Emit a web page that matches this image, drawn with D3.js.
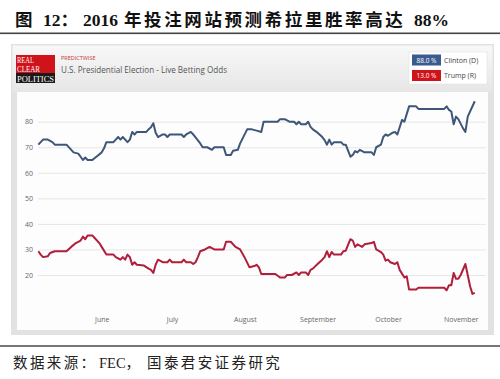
<!DOCTYPE html>
<html><head><meta charset="utf-8">
<script src="https://cdn.jsdelivr.net/npm/d3@7"></script>
<style>body{margin:0;background:#fff}svg{display:block}</style>
</head><body><svg id="c" width="500" height="379"></svg>
<script>
const titleParts = ["图", "12：", "2016", "年投注网站预测希拉里胜率高达", "88%"];
const sourceParts = ["数据来源：", "FEC，", "国泰君安证券研究"];
const yTicks = [20, 30, 40, 50, 60, 70, 80];
const monthTicks = ["2016-06-01", "2016-07-01", "2016-08-01", "2016-09-01", "2016-10-01", "2016-11-01"];
const legendLabels = ["Clinton (D)", "Trump (R)"];
const legendValues = ["88.0 %", "13.0 %"];
const clinton = [
["2016-05-05",71],["2016-05-07",73],["2016-05-09",73],["2016-05-11",72],["2016-05-12",71],["2016-05-17",71],
["2016-05-20",68],["2016-05-22",67.5],["2016-05-23",66.3],["2016-05-24",65],["2016-05-25",66],["2016-05-26",65],
["2016-05-28",65],["2016-05-30",66.5],["2016-06-01",68],["2016-06-02",69.6],["2016-06-03",72],["2016-06-06",72],
["2016-06-07",73],["2016-06-08",74],["2016-06-09",73],["2016-06-10",74],["2016-06-12",72],["2016-06-13",73],
["2016-06-14",76],["2016-06-15",75],["2016-06-16",76],["2016-06-20",76],["2016-06-21",77],["2016-06-22",77.8],
["2016-06-23",79.4],["2016-06-24",75.7],["2016-06-25",74],["2016-06-27",75],["2016-06-28",75],["2016-06-29",74],
["2016-06-30",75],["2016-07-05",75],["2016-07-06",74],["2016-07-07",75],["2016-07-09",76],["2016-07-10",75],
["2016-07-13",71.5],["2016-07-14",70],["2016-07-16",70],["2016-07-18",69],["2016-07-19",70],["2016-07-23",70],
["2016-07-24",67],["2016-07-26",67],["2016-07-27",68.6],["2016-07-29",69],["2016-07-30",71.5],["2016-08-02",77],
["2016-08-04",77],["2016-08-06",76.5],["2016-08-08",76],["2016-08-09",80],["2016-08-15",80],["2016-08-16",81],
["2016-08-18",81],["2016-08-20",80],["2016-08-22",80],["2016-08-23",79],["2016-08-24",80],["2016-08-25",79],
["2016-08-27",79],["2016-08-28",80],["2016-08-29",78],["2016-08-30",77],["2016-09-01",75.7],["2016-09-03",74],
["2016-09-04",72.8],["2016-09-05",71],["2016-09-06",73],["2016-09-07",71],["2016-09-08",72],["2016-09-11",72],
["2016-09-12",71],["2016-09-13",71],["2016-09-15",66.3],["2016-09-16",67],["2016-09-17",68.5],["2016-09-18",68],
["2016-09-19",69],["2016-09-21",68],["2016-09-24",68],["2016-09-25",67],["2016-09-26",70],["2016-09-28",71],
["2016-09-29",74],["2016-09-30",75],["2016-10-01",74.5],["2016-10-03",75.7],["2016-10-04",76],["2016-10-05",75],
["2016-10-07",80.7],["2016-10-08",80],["2016-10-10",86],["2016-10-13",86],["2016-10-14",85],["2016-10-25",85],
["2016-10-26",86],["2016-10-27",84.6],["2016-10-28",84],["2016-10-29",79],["2016-10-30",82],["2016-10-31",81],
["2016-11-02",77.4],["2016-11-03",76],["2016-11-04",82],["2016-11-07",88]
];
const trump = [
["2016-05-05",29.3],["2016-05-06",28],["2016-05-07",27],["2016-05-09",27.3],["2016-05-10",28.6],["2016-05-12",29.3],
["2016-05-17",29.3],["2016-05-19",31],["2016-05-21",32.5],["2016-05-23",33.5],["2016-05-24",35],["2016-05-25",34],
["2016-05-26",35.5],["2016-05-28",35.5],["2016-05-29",34.5],["2016-05-31",32.5],["2016-06-01",31],["2016-06-03",28],
["2016-06-06",28],["2016-06-07",27],["2016-06-09",26],["2016-06-10",27],["2016-06-11",26],["2016-06-12",28],
["2016-06-13",27],["2016-06-14",24],["2016-06-15",25],["2016-06-16",24],["2016-06-19",23.7],["2016-06-21",22.5],
["2016-06-22",22],["2016-06-23",20.8],["2016-06-24",24],["2016-06-25",26],["2016-06-27",25],["2016-06-29",25],
["2016-06-30",26],["2016-07-01",25],["2016-07-05",25],["2016-07-06",26],["2016-07-07",25],["2016-07-09",25],
["2016-07-10",24.3],["2016-07-11",25],["2016-07-12",27],["2016-07-13",29.3],["2016-07-15",30],["2016-07-17",31],
["2016-07-19",30],["2016-07-23",30],["2016-07-24",33],["2016-07-26",33],["2016-07-28",31],["2016-07-30",30],
["2016-08-01",26.7],["2016-08-03",23],["2016-08-05",23.5],["2016-08-06",24],["2016-08-07",23],["2016-08-08",20.4],
["2016-08-14",20.4],["2016-08-16",19],["2016-08-18",19],["2016-08-19",20],["2016-08-21",20],["2016-08-23",21],
["2016-08-24",20],["2016-08-25",21],["2016-08-27",21],["2016-08-28",20],["2016-08-29",22],["2016-08-30",22.5],
["2016-09-01",24.3],["2016-09-03",26],["2016-09-04",27],["2016-09-05",29.3],["2016-09-06",27],["2016-09-07",29],
["2016-09-08",28],["2016-09-11",28],["2016-09-12",29.3],["2016-09-13",29.5],["2016-09-15",34],["2016-09-16",33.5],
["2016-09-17",31],["2016-09-18",32],["2016-09-20",31],["2016-09-21",32],["2016-09-24",32.5],["2016-09-25",33],
["2016-09-26",30],["2016-09-28",29],["2016-09-29",28],["2016-09-30",25.6],["2016-10-01",26],["2016-10-02",25],
["2016-10-04",24.3],["2016-10-05",25],["2016-10-06",22],["2016-10-08",19],["2016-10-09",19.5],["2016-10-10",14.3],
["2016-10-13",14.3],["2016-10-14",15],["2016-10-25",15],["2016-10-26",14],["2016-10-27",16],["2016-10-28",16],
["2016-10-29",20.8],["2016-10-30",18.5],["2016-10-31",18.5],["2016-11-01",20],["2016-11-03",24.3],["2016-11-05",15.6],
["2016-11-06",12.6],["2016-11-07",13]
];

const parse = d3.timeParse("%Y-%m-%d");
const svg = d3.select("#c");

// title
const titleX = [15, 43, 83, 124, 414];
const tt = svg.append("text").attr("y", 26)
  .attr("font-family", "'Liberation Serif', 'Noto Sans CJK SC', serif").attr("font-weight", "bold")
  .attr("font-size", 17.5).attr("fill", "#111");
titleParts.forEach((p, i) => {
  tt.append("tspan").attr("x", titleX[i]).attr("letter-spacing", i === 3 ? 2.6 : 0).text(p);
});
svg.append("rect").attr("x", 0).attr("y", 32.5).attr("width", 500).attr("height", 1.6).attr("fill", "#444");
svg.append("rect").attr("x", 0).attr("y", 345.2).attr("width", 500).attr("height", 1.6).attr("fill", "#555");

// source
const srcX = [13, 99, 147];
const st = svg.append("text").attr("y", 368)
  .attr("font-family", "'Liberation Serif', 'Noto Sans CJK SC', serif")
  .attr("font-size", 14.5).attr("fill", "#222");
sourceParts.forEach((p, i) => {
  st.append("tspan").attr("x", srcX[i]).attr("letter-spacing", i === 1 ? 0 : 2.4).text(p);
});

// frame
const defs = svg.append("defs");
const g = defs.append("linearGradient").attr("id", "hdr").attr("x1", 0).attr("y1", 0).attr("x2", 0).attr("y2", 1);
g.append("stop").attr("offset", "0%").attr("stop-color", "#f8f8f8");
g.append("stop").attr("offset", "100%").attr("stop-color", "#e6e6e6");
svg.append("rect").attr("x", 11).attr("y", 44).attr("width", 483).attr("height", 291).attr("fill", "#e2e2e2");
svg.append("rect").attr("x", 12.5).attr("y", 45.5).attr("width", 480).attr("height", 46.5).attr("fill", "url(#hdr)");
svg.append("rect").attr("x", 17).attr("y", 92).attr("width", 471).attr("height", 238).attr("fill", "#fdfdfe");

// logo
const logo = svg.append("g");
logo.append("rect").attr("x", 16).attr("y", 55).attr("width", 39).attr("height", 18).attr("fill", "#d0121b");
logo.append("rect").attr("x", 16).attr("y", 73).attr("width", 39).attr("height", 10).attr("fill", "#1a1a1a");
[["REAL", 63], ["CLEAR", 71.5], ["POLITICS", 81.5]].forEach(([t, yy]) => {
  logo.append("text").attr("x", 17).attr("y", yy).attr("font-family", "'Liberation Serif', serif")
    .attr("font-size", 8).attr("fill", "#fff").attr("textLength", t === "POLITICS" ? 37 : (t === "REAL" ? 17 : 23))
    .attr("lengthAdjust", "spacingAndGlyphs").text(t);
});
svg.append("text").attr("x", 61).attr("y", 60).attr("font-family", "'Open Sans', sans-serif")
  .attr("font-size", 5.5).attr("fill", "#c23a3a").text("PREDICTWISE");
svg.append("text").attr("x", 61).attr("y", 73).attr("font-family", "'Open Sans', sans-serif")
  .attr("font-size", 9).attr("fill", "#555").attr("textLength", 166).attr("lengthAdjust", "spacingAndGlyphs")
  .text("U.S. Presidential Election - Live Betting Odds");

// legend
const leg = svg.append("g");
leg.append("rect").attr("x", 409).attr("y", 52).attr("width", 78).attr("height", 32).attr("fill", "#fff").attr("stroke", "#ddd").attr("stroke-width", 0.5);
const legColors = ["#3a5b8f", "#d0121b"];
legendLabels.forEach((lab, i) => {
  const y0 = 54.5 + i * 15.5;
  leg.append("rect").attr("x", 412).attr("y", y0).attr("width", 29).attr("height", 11).attr("fill", legColors[i]);
  leg.append("text").attr("x", 426.5).attr("y", y0 + 8).attr("text-anchor", "middle")
    .attr("font-family", "'Open Sans', sans-serif").attr("font-size", 6.5).attr("fill", "#fff").text(legendValues[i]);
  leg.append("text").attr("x", 444).attr("y", y0 + 8).attr("font-family", "'Open Sans', sans-serif")
    .attr("font-size", 7).attr("fill", "#444").text(lab);
});

// scales
const x = d3.scaleTime().domain([parse("2016-06-01"), parse("2016-11-01")]).range([101.7, 460.7]);
const y = d3.scaleLinear().domain([20, 80]).range([275, 121.7]);

// y axis with gridlines
const ya = svg.append("g").attr("transform", "translate(38,0)")
  .call(d3.axisLeft(y).tickValues(yTicks).tickSize(-448).tickPadding(5).tickFormat(d3.format("d")));
ya.select(".domain").remove();
ya.selectAll(".tick line").attr("stroke", "#e6e6e6").attr("stroke-width", 1);
ya.selectAll(".tick text").attr("font-family", "'Open Sans', sans-serif").attr("font-size", 7).attr("fill", "#666");

// x axis
const xa = svg.append("g").attr("transform", "translate(0,313)")
  .call(d3.axisBottom(x).tickValues(monthTicks.map(parse)).tickSize(0).tickPadding(4).tickFormat(d3.timeFormat("%B")));
xa.select(".domain").remove();
xa.selectAll(".tick text").attr("font-family", "'Open Sans', sans-serif").attr("font-size", 7).attr("fill", "#666");

// lines
const line = d3.line().x(d => x(parse(d[0]))).y(d => y(d[1]));
svg.append("path").datum(clinton).attr("d", line).attr("fill", "none")
  .attr("stroke", "#3e5677").attr("stroke-width", 2).attr("stroke-linejoin", "round");
svg.append("path").datum(trump).attr("d", line).attr("fill", "none")
  .attr("stroke", "#b01e3c").attr("stroke-width", 2).attr("stroke-linejoin", "round");
</script></body></html>
